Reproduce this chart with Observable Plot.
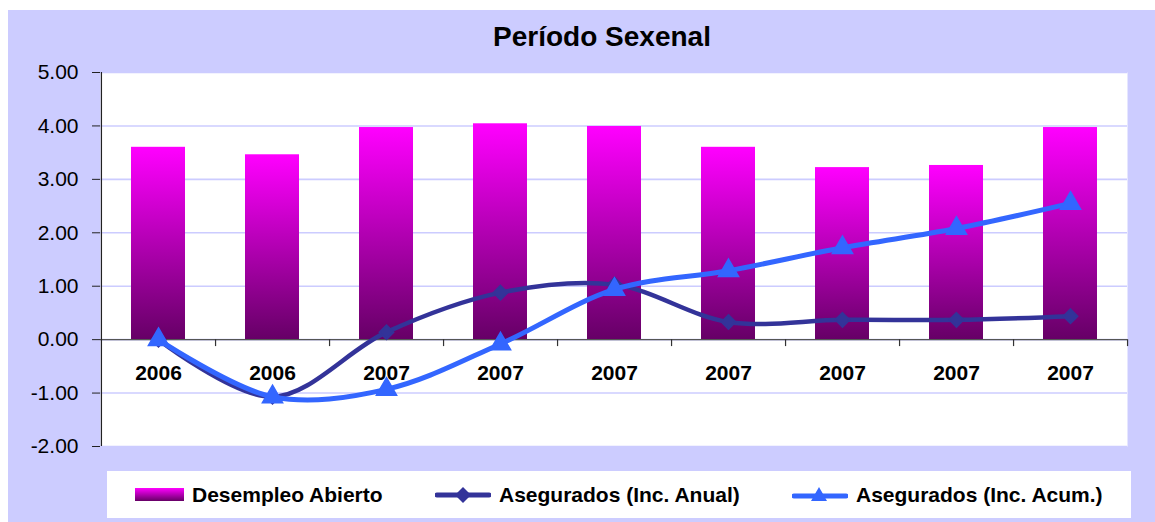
<!DOCTYPE html>
<html>
<head>
<meta charset="utf-8">
<script src="https://cdn.jsdelivr.net/npm/d3@7"></script>
<script src="https://cdn.jsdelivr.net/npm/@observablehq/plot@0.6"></script>
<style>
  html, body { margin: 0; padding: 0; background: #ffffff; }
  body { font-family: "Liberation Sans", Arial, sans-serif; }
  #box { position: absolute; left: 8px; top: 10px; width: 1147px; height: 512px; background: #ccccff; }
  #title { height: 50px; box-sizing: border-box; padding-top: 13px; padding-left: 41px; text-align: center;
           font-size: 28px; line-height: 28px; font-weight: bold; color: #000; }
  #chart svg { display: block; background: transparent; }
  #legendwrap { position: relative; height: 62px; }
  #legend { position: absolute; left: 99px; top: 11px; width: 1024px; height: 47px; background: #fff; }
  .item { position: absolute; top: 0; height: 47px; display: flex; align-items: center; }
  .lab { font-size: 21px; font-weight: bold; color: #000; white-space: nowrap; }
</style>
</head>
<body>
<div id="box">
  <div id="title">Período Sexenal</div>
  <div id="chart"></div>
  <div id="legendwrap"><div id="legend"></div></div>
</div>
<script>
// ---- data ----
const categories = ["2006", "2006", "2007", "2007", "2007", "2007", "2007", "2007", "2007"];
const desempleoAbierto = [3.60, 3.46, 3.97, 4.04, 3.99, 3.60, 3.22, 3.26, 3.97];
const aseguradosAnual = [0.00, -1.07, 0.14, 0.88, 1.03, 0.33, 0.37, 0.37, 0.44];
const aseguradosAcum = [0.00, -1.07, -0.93, -0.08, 0.94, 1.29, 1.72, 2.08, 2.55];
const yTicks = [-2, -1, 0, 1, 2, 3, 4, 5];
const seriesNames = ["Desempleo Abierto", "Asegurados (Inc. Anual)", "Asegurados (Inc. Acum.)"];

// ---- build ----
const idx = categories.map((_, i) => i);
const rows = idx.map(i => ({i, cat: categories[i], des: desempleoAbierto[i], anual: aseguradosAnual[i], acum: aseguradosAcum[i]}));

const W = 1147, H = 400, mL = 92, mR = 28, mT = 12, mB = 14;
const bw = (W - mL - mR) / categories.length;
const FONT = "Liberation Sans, Arial, sans-serif";
const colAnual = "#333399", colAcum = "#3366ff";

const plot = Plot.plot({
  width: W, height: H,
  marginLeft: mL, marginRight: mR, marginTop: mT, marginBottom: mB,
  style: {fontFamily: FONT, background: "transparent", overflow: "visible"},
  x: {type: "band", domain: idx, padding: 0, axis: null},
  y: {domain: [d3.min(yTicks), d3.max(yTicks)], ticks: yTicks},
  marks: [
    Plot.frame({fill: "white", stroke: null}),
    Plot.gridY(yTicks, {stroke: "#ccccff", strokeOpacity: 1, strokeWidth: 1.6}),
    Plot.barY(rows, {x: "i", y: "des", fill: "url(#barGrad)", insetLeft: 30, insetRight: 30}),
    Plot.ruleY([0], {stroke: "#555", strokeWidth: 1.2}),
    Plot.ruleX(idx, {x: d => d, y1: 0, y2: -0.13, dx: bw / 2, stroke: "#333", strokeWidth: 1.2}),
    Plot.ruleX([0], {x: d => d, y1: d3.min(yTicks), y2: d3.max(yTicks), dx: -bw / 2, stroke: "#222", strokeWidth: 1.2}),
    Plot.axisY({ticks: yTicks, tickFormat: d => d.toFixed(2), tickSize: 8, tickPadding: 14, fontSize: 21, stroke: "#222", color: "#000"}),
    Plot.text(rows, {x: "i", y: () => 0, text: "cat", dy: 34, fontSize: 21, fontWeight: "bold", fill: "#000"}),
    Plot.line(rows, {x: "i", y: "anual", stroke: colAnual, strokeWidth: 4.5, curve: "catmull-rom"}),
    Plot.dot(rows, {x: "i", y: "anual", symbol: "diamond2", r: 6.5, fill: colAnual, stroke: colAnual}),
    Plot.line(rows, {x: "i", y: "acum", stroke: colAcum, strokeWidth: 5, curve: "catmull-rom"}),
    Plot.dot(rows, {x: "i", y: "acum", symbol: "triangle", r: 7.5, fill: colAcum, stroke: colAcum})
  ]
});

// gradient for bars
const svg = d3.select(plot);
const defs = svg.insert("defs", ":first-child");
const g = defs.append("linearGradient").attr("id", "barGrad").attr("x1", 0).attr("y1", 0).attr("x2", 0).attr("y2", 1);
g.append("stop").attr("offset", "0%").attr("stop-color", "#ff00ff");
g.append("stop").attr("offset", "100%").attr("stop-color", "#660066");
document.getElementById("chart").appendChild(plot);

// legend
const legend = document.getElementById("legend");
const items = [
  {left: 28, icon: `<svg width="49" height="13"><defs><linearGradient id="lg1" x1="0" y1="0" x2="0" y2="1"><stop offset="0" stop-color="#ff00ff"/><stop offset="1" stop-color="#660066"/></linearGradient></defs><rect width="49" height="13" fill="url(#lg1)"/></svg>`, gap: 8, name: seriesNames[0]},
  {left: 328, icon: `<svg width="56" height="18"><line x1="2" y1="9" x2="54" y2="9" stroke="${colAnual}" stroke-width="5" stroke-linecap="round"/><path d="M28 1 L36 9 L28 17 L20 9 Z" fill="${colAnual}"/></svg>`, gap: 8, name: seriesNames[1]},
  {left: 685, icon: `<svg width="56" height="18"><line x1="2" y1="10" x2="54" y2="10" stroke="${colAcum}" stroke-width="5" stroke-linecap="round"/><path d="M27 1 L35 15 L19 15 Z" fill="${colAcum}"/></svg>`, gap: 8, name: seriesNames[2]}
];
for (const it of items) {
  const d = document.createElement("div");
  d.className = "item";
  d.style.left = it.left + "px";
  d.innerHTML = it.icon + `<span class="lab" style="margin-left:${it.gap}px">${it.name}</span>`;
  legend.appendChild(d);
}
</script>
</body>
</html>
